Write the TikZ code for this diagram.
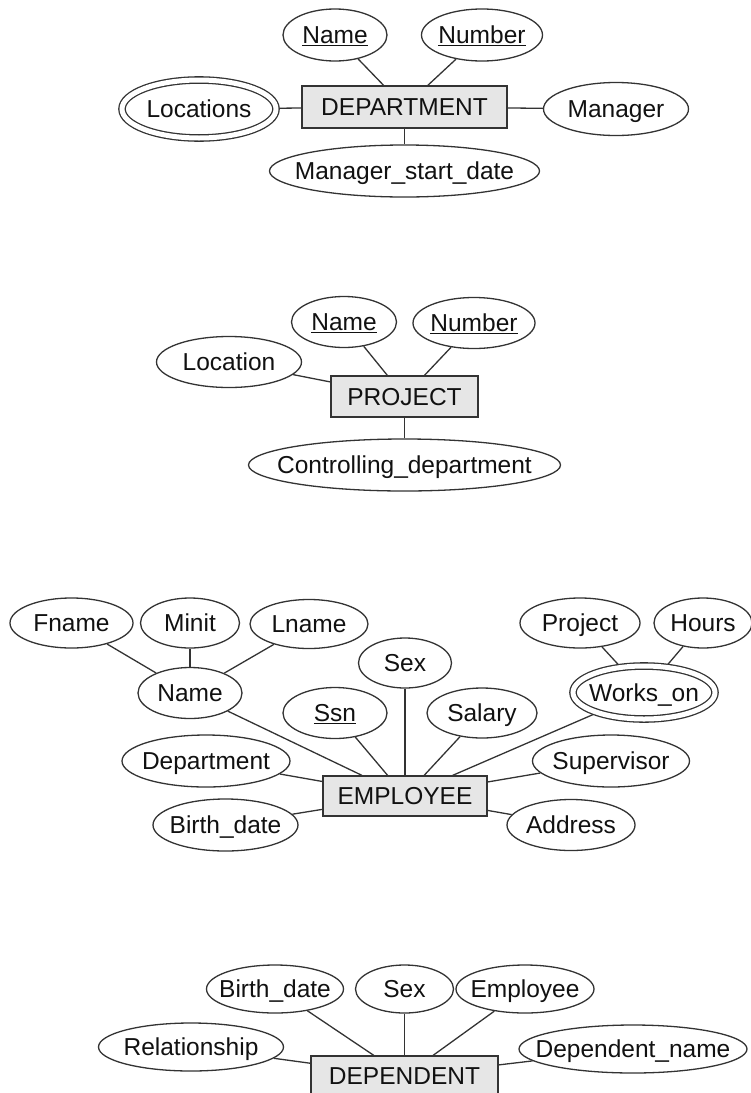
\documentclass[tikz,border=0pt]{standalone}
\usepackage{fontspec}
\setmainfont{Liberation Sans}
\usetikzlibrary{shapes.geometric,backgrounds}
\definecolor{lncol}{HTML}{333333}
\definecolor{txcol}{HTML}{111111}
\definecolor{boxfill}{HTML}{E6E6E6}
\newcommand{\lbl}[1]{\makebox[0pt][c]{#1}}
\tikzset{
  base/.style={draw=lncol, line width=1.3pt, text=txcol, inner sep=0pt,
    text height=17.5pt, text depth=0pt, font=\fontsize{24.5}{29}\selectfont},
  attr/.style={base, ellipse, fill=white, minimum height=51pt},
  multi/.style={attr, double=white, double distance=5pt},
  entity/.style={base, rectangle, fill=boxfill, minimum height=41pt},
  conn/.style={draw=lncol, line width=1.3pt},
}
\begin{document}
\begin{tikzpicture}[x=1pt,y=-1pt]
\useasboundingbox (0,0) rectangle (751,1093);

% DEPARTMENT
\node[entity, minimum width=205pt, minimum height=42pt] (dept) at (404.5,107) {\lbl{DEPARTMENT}};
\node[attr, minimum width=104pt, minimum height=52pt] (dname) at (335,35) {\lbl{\underline{Name}}};
\node[attr, minimum width=121pt, minimum height=52pt] (dnum) at (482,35) {\lbl{\underline{Number}}};
\node[multi, minimum width=154pt, minimum height=58pt] (dloc) at (199,109) {\lbl{Locations}};
\node[attr, minimum width=145pt, minimum height=53pt] (dmgr) at (616,109) {\lbl{Manager}};
\node[attr, minimum width=270pt, minimum height=52pt] (dmsd) at (404.5,171) {\lbl{Manager\_start\_date}};

% PROJECT
\node[entity, minimum width=147pt] (proj) at (404.5,396.5) {\lbl{PROJECT}};
\node[attr, minimum width=105pt] (pname) at (344,322) {\lbl{\underline{Name}}};
\node[attr, minimum width=122pt] (pnum) at (474,323) {\lbl{\underline{Number}}};
\node[attr, minimum width=145pt] (ploc) at (229,362) {\lbl{Location}};
\node[attr, minimum width=312pt, minimum height=52pt] (pctl) at (404.5,465) {\lbl{Controlling\_department}};

% EMPLOYEE
\node[entity, minimum width=164pt, minimum height=40pt] (emp) at (405,796) {\lbl{EMPLOYEE}};
\node[attr, minimum width=123pt, minimum height=50pt] (fname) at (71.5,623) {\lbl{Fname}};
\node[attr, minimum width=99pt, minimum height=50pt] (minit) at (190,623) {\lbl{Minit}};
\node[attr, minimum width=118pt, minimum height=49pt] (lname) at (309,624) {\lbl{Lname}};
\node[attr, minimum width=104pt] (ename) at (190,693) {\lbl{Name}};
\node[attr, minimum width=93pt, minimum height=50pt] (esex) at (405,663) {\lbl{Sex}};
\node[attr, minimum width=104pt] (essn) at (335,713) {\lbl{\underline{Ssn}}};
\node[attr, minimum width=110pt, minimum height=50pt] (esal) at (482,713) {\lbl{Salary}};
\node[attr, minimum width=120pt, minimum height=50pt] (eproj) at (580,623) {\lbl{Project}};
\node[attr, minimum width=98pt, minimum height=50pt] (ehrs) at (703,623) {\lbl{Hours}};
\node[multi, minimum width=142pt, minimum height=53pt] (ework) at (644,692.5) {\lbl{Works\_on}};
\node[attr, minimum width=168pt, minimum height=52pt] (edept) at (206,761) {\lbl{Department}};
\node[attr, minimum width=157pt, minimum height=52pt] (esup) at (611,761) {\lbl{Supervisor}};
\node[attr, minimum width=145pt, minimum height=52pt] (ebirth) at (225.5,825) {\lbl{Birth\_date}};
\node[attr, minimum width=128pt] (eaddr) at (571,825) {\lbl{Address}};

% DEPENDENT
\node[entity, minimum width=187pt, minimum height=40pt] (dep) at (404.5,1076) {\lbl{DEPENDENT}};
\node[attr, minimum width=137pt, minimum height=48pt] (dbirth) at (275,989) {\lbl{Birth\_date}};
\node[attr, minimum width=98pt, minimum height=48pt] (dsex) at (404.5,989) {\lbl{Sex}};
\node[attr, minimum width=138pt, minimum height=48pt] (demp) at (525,989) {\lbl{Employee}};
\node[attr, minimum width=185pt, minimum height=48pt] (drel) at (191,1047) {\lbl{Relationship}};
\node[attr, minimum width=228pt, minimum height=48pt] (ddname) at (633,1049) {\lbl{Dependent\_name}};

\begin{scope}[on background layer]
  \draw[conn] (dname) -- (dept);
  \draw[conn] (dnum) -- (dept);
  \draw[conn] (dloc) -- (dept);
  \draw[conn] (dmgr) -- (dept);
  \draw[conn] (dmsd) -- (dept);

  \draw[conn] (pname) -- (proj);
  \draw[conn] (pnum) -- (proj);
  \draw[conn] (ploc) -- (proj);
  \draw[conn] (pctl) -- (proj);

  \draw[conn] (fname) -- (ename);
  \draw[conn] (minit) -- (ename);
  \draw[conn] (lname) -- (ename);
  \draw[conn] (ename) -- (emp);
  \draw[conn] (essn) -- (emp);
  \draw[conn] (esex) -- (emp);
  \draw[conn] (esal) -- (emp);
  \draw[conn] (eproj) -- (ework);
  \draw[conn] (ehrs) -- (ework);
  \draw[conn] (ework) -- (emp);
  \draw[conn] (edept) -- (emp);
  \draw[conn] (esup) -- (emp);
  \draw[conn] (ebirth) -- (emp);
  \draw[conn] (eaddr) -- (emp);

  \draw[conn] (dbirth) -- (dep);
  \draw[conn] (dsex) -- (dep);
  \draw[conn] (demp) -- (dep);
  \draw[conn] (drel) -- (dep);
  \draw[conn] (ddname) -- (dep);
\end{scope}
\end{tikzpicture}
\end{document}
